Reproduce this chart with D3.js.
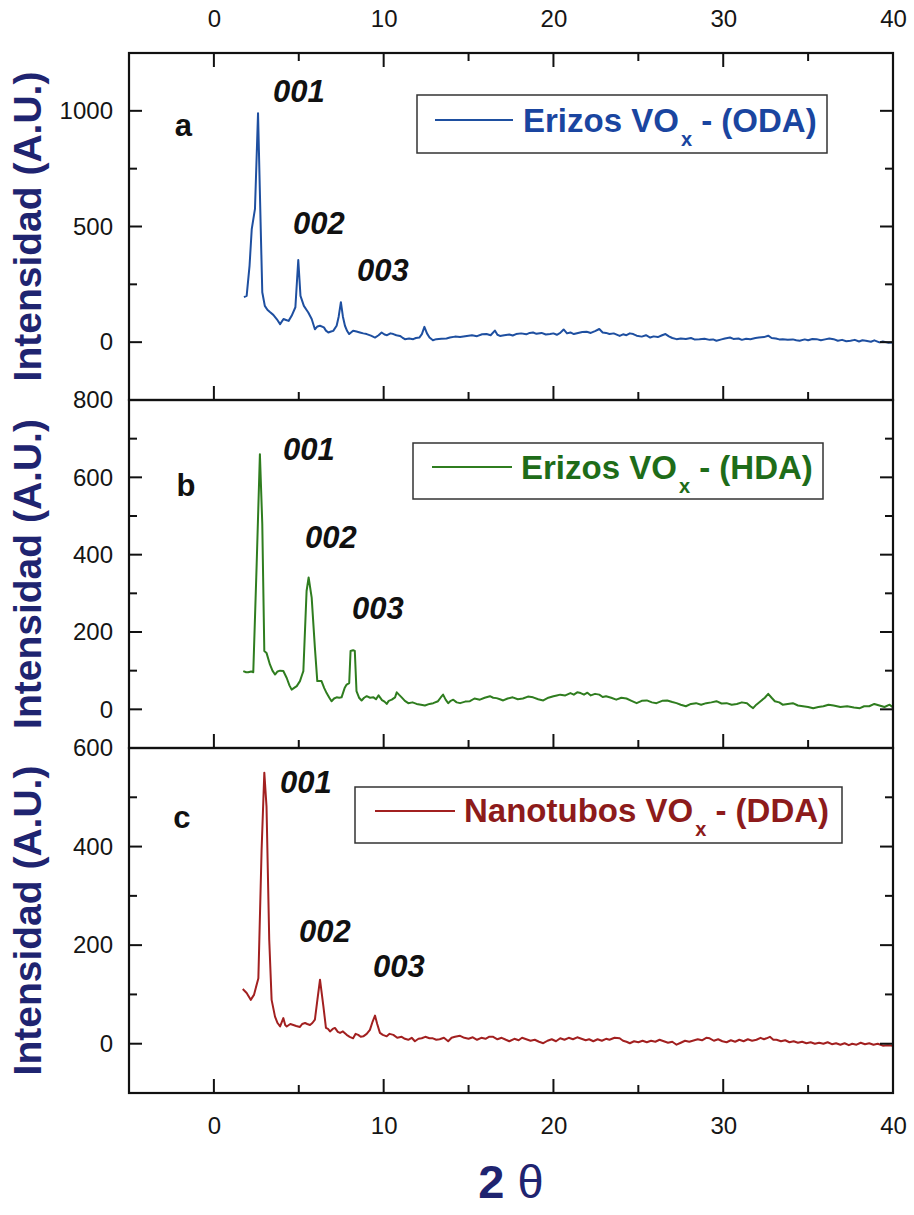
<!DOCTYPE html>
<html><head><meta charset="utf-8">
<script src="https://cdn.jsdelivr.net/npm/d3@7"></script>
<style>body{margin:0;background:#fff;} svg{display:block;}</style>
</head><body>
<svg id="chart" width="914" height="1215"></svg>
<script>
// ---------------- DATA ----------------
const xDomain = [-5, 40];
const xTicksMajor = [0, 10, 20, 30, 40];
const xTicksMinor = [5, 15, 25, 35];

const panelLetters = ["a", "b", "c"];
const legendMain = ["Erizos VO", "Erizos VO", "Nanotubos VO"];
const legendSub = ["x", "x", "x"];
const legendTail = [" - (ODA)", " - (HDA)", " - (DDA)"];
const peakNames = ["001", "002", "003"];

const yDomains = [[-250, 1250], [-100, 800], [-100, 600]];
const yTicksMajor = [[0, 500, 1000], [0, 200, 400, 600, 800], [0, 200, 400, 600]];
const yTicksMinor = [[250, 750], [100, 300, 500, 700], [100, 300, 500]];

const dataODA = [[1.77,195],[1.93,200],[2.1,330],[2.23,489],[2.42,576],[2.6,990],[2.75,520],[2.85,216],[3.0,157],[3.15,140],[3.3,130],[3.5,118],[3.7,100],[3.9,78],[4.1,100],[4.25,96],[4.4,92],[4.58,114],[4.8,151],[4.97,355],[5.1,200],[5.3,157],[5.45,140],[5.56,128],[5.76,100],[5.95,56],[6.1,68],[6.25,71],[6.48,64],[6.6,50],[6.74,42],[6.9,46],[7.03,49],[7.23,71],[7.35,110],[7.48,173],[7.6,110],[7.72,71],[7.85,48],[7.97,35],[8.2,49],[8.4,46],[8.6,42],[8.8,38],[9.0,35],[9.25,28],[9.49,20],[9.7,30],[9.88,42],[10.05,33],[10.2,30],[10.4,38],[10.57,35],[10.75,30],[10.96,27],[11.1,20],[11.25,13],[11.5,16],[11.74,13],[11.9,18],[12.1,20],[12.25,35],[12.4,66],[12.55,38],[12.7,20],[12.9,8],[13.1,13],[13.4,15],[13.7,16],[13.9,20],[14.2,24],[14.5,22],[14.9,27],[15.2,30],[15.5,26],[15.8,34],[16.06,35],[16.3,30],[16.55,50],[16.7,32],[16.85,27],[17.1,30],[17.4,33],[17.6,29],[17.8,35],[18.1,38],[18.4,34],[18.6,40],[18.8,42],[19.0,36],[19.3,40],[19.55,33],[19.8,35],[20.0,38],[20.2,32],[20.4,40],[20.6,55],[20.8,38],[21.0,42],[21.2,35],[21.45,40],[21.7,44],[21.96,45],[22.2,40],[22.45,48],[22.7,57],[22.9,42],[23.1,40],[23.3,35],[23.55,38],[23.9,27],[24.1,34],[24.3,30],[24.5,38],[24.7,35],[24.9,28],[25.2,24],[25.45,30],[25.7,20],[25.9,25],[26.15,22],[26.4,30],[26.6,35],[26.8,25],[27.0,18],[27.25,13],[27.5,16],[27.8,14],[28.1,18],[28.3,12],[28.6,13],[28.9,15],[29.2,10],[29.4,12],[29.6,6],[29.9,12],[30.1,16],[30.4,20],[30.6,14],[30.9,16],[31.1,10],[31.35,15],[31.6,13],[31.9,18],[32.1,20],[32.4,22],[32.65,28],[32.85,18],[33.1,16],[33.3,12],[33.5,13],[33.8,10],[34.1,12],[34.3,8],[34.5,6],[34.8,12],[35.0,8],[35.25,14],[35.5,13],[35.75,8],[36.0,12],[36.25,16],[36.5,13],[36.75,6],[37.0,10],[37.25,4],[37.5,6],[37.75,10],[38.0,3],[38.2,8],[38.4,6],[38.7,2],[38.9,8],[39.2,-1],[39.4,3],[39.7,-2],[40.0,-1]];

const dataHDA = [[1.73,99],[1.9,96],[2.02,96],[2.2,98],[2.32,96],[2.52,376],[2.71,660],[2.85,480],[2.97,151],[3.1,146],[3.3,116],[3.45,100],[3.6,90],[3.75,98],[3.9,100],[4.09,99],[4.29,81],[4.45,62],[4.58,51],[4.75,56],[4.88,60],[5.07,73],[5.2,90],[5.27,99],[5.46,306],[5.58,341],[5.76,289],[5.95,159],[6.09,73],[6.2,73],[6.34,73],[6.5,55],[6.64,42],[6.8,30],[6.93,21],[7.08,28],[7.23,31],[7.38,30],[7.52,31],[7.7,55],[7.82,64],[7.97,68],[8.05,151],[8.2,153],[8.3,151],[8.4,47],[8.55,30],[8.7,23],[8.85,30],[9.0,34],[9.2,30],[9.4,31],[9.55,26],[9.7,36],[9.9,24],[10.05,20],[10.18,14],[10.3,22],[10.48,25],[10.67,31],[10.77,44],[10.9,38],[11.06,31],[11.25,22],[11.45,16],[11.7,18],[11.94,14],[12.2,12],[12.43,10],[12.7,14],[12.92,16],[13.2,21],[13.35,30],[13.5,38],[13.65,25],[13.8,16],[13.95,22],[14.1,25],[14.3,18],[14.5,16],[14.8,20],[15.08,21],[15.35,28],[15.67,25],[15.95,30],[16.26,34],[16.45,30],[16.65,29],[16.85,26],[17.04,23],[17.3,28],[17.6,31],[17.9,26],[18.2,28],[18.5,33],[18.8,31],[19.1,26],[19.4,23],[19.7,30],[20.0,34],[20.2,36],[20.4,38],[20.7,36],[21.0,42],[21.2,38],[21.4,44],[21.6,42],[21.8,38],[22.0,43],[22.2,36],[22.45,40],[22.7,38],[22.9,32],[23.1,34],[23.4,30],[23.7,25],[24.0,30],[24.3,28],[24.6,22],[24.9,16],[25.2,22],[25.5,23],[25.8,18],[26.07,16],[26.4,22],[26.7,23],[27.0,19],[27.25,16],[27.5,12],[27.8,8],[28.1,14],[28.4,16],[28.7,12],[29.0,16],[29.3,18],[29.6,21],[29.9,15],[30.2,16],[30.5,12],[30.8,14],[31.1,18],[31.4,16],[31.6,8],[31.76,3],[31.95,12],[32.2,21],[32.45,30],[32.65,40],[32.85,30],[33.04,21],[33.3,18],[33.5,12],[33.8,14],[34.1,16],[34.4,10],[34.7,8],[35.0,6],[35.3,3],[35.6,6],[35.9,8],[36.2,12],[36.5,10],[36.9,6],[37.3,8],[37.7,5],[38.05,3],[38.3,8],[38.6,8],[38.9,14],[39.2,10],[39.5,6],[39.8,12],[40.0,5]];

const dataDDA = [[1.7,111],[1.93,103],[2.17,89],[2.36,99],[2.62,133],[2.81,393],[2.97,550],[3.1,481],[3.26,211],[3.4,89],[3.6,55],[3.75,42],[3.9,35],[4.09,52],[4.2,38],[4.29,35],[4.5,40],[4.68,38],[4.85,36],[5.07,34],[5.2,40],[5.37,42],[5.5,40],[5.66,38],[5.8,42],[5.95,49],[6.1,90],[6.25,130],[6.45,76],[6.6,32],[6.72,30],[6.84,25],[7.0,30],[7.13,32],[7.3,24],[7.43,22],[7.6,25],[7.82,18],[8.0,14],[8.2,11],[8.35,20],[8.5,18],[8.65,14],[8.8,15],[9.0,20],[9.19,28],[9.35,45],[9.49,57],[9.62,40],[9.78,22],[9.95,18],[10.18,15],[10.35,20],[10.57,18],[10.8,12],[11.06,14],[11.25,10],[11.45,8],[11.65,12],[11.84,5],[12.05,10],[12.24,11],[12.45,14],[12.7,11],[12.9,11],[13.1,8],[13.3,9],[13.55,12],[13.8,5],[14.0,12],[14.2,14],[14.5,16],[14.75,12],[15.0,10],[15.25,13],[15.5,8],[15.75,12],[16.0,10],[16.2,14],[16.45,14],[16.7,9],[16.95,12],[17.2,8],[17.4,5],[17.7,10],[17.95,7],[18.15,12],[18.4,9],[18.65,6],[18.9,8],[19.15,4],[19.4,1],[19.65,6],[19.9,9],[20.15,5],[20.4,11],[20.65,8],[20.9,12],[21.15,9],[21.4,13],[21.65,10],[21.9,7],[22.1,9],[22.35,5],[22.6,9],[22.85,6],[23.1,10],[23.3,8],[23.6,12],[23.9,11],[24.1,6],[24.3,4],[24.5,1],[24.75,5],[25.0,3],[25.25,6],[25.5,3],[25.75,6],[26.0,4],[26.25,8],[26.5,5],[26.75,2],[27.0,4],[27.25,-2],[27.5,2],[27.75,6],[28.0,4],[28.2,6],[28.5,9],[28.75,7],[29.0,12],[29.2,11],[29.45,6],[29.7,9],[29.95,5],[30.2,3],[30.45,7],[30.7,4],[30.95,8],[31.2,5],[31.45,9],[31.7,6],[31.96,8],[32.2,12],[32.4,9],[32.55,11],[32.75,14],[32.95,8],[33.14,8],[33.4,5],[33.65,7],[33.9,3],[34.15,5],[34.4,2],[34.65,4],[34.9,1],[35.15,3],[35.4,0],[35.65,2],[35.9,0],[36.15,3],[36.4,-1],[36.65,1],[36.9,-2],[37.15,1],[37.4,-3],[37.6,0],[37.85,-2],[38.1,2],[38.35,-1],[38.6,1],[38.85,-2],[39.1,0],[39.4,-4],[39.7,-3],[40.0,-4]];

const allData = [dataODA, dataHDA, dataDDA];

// annotation anchors in data coordinates
const peakAnchors = [
  [[3.48, 1039], [4.66, 467], [8.43, 264]],
  [[4.07, 644], [5.37, 418], [8.13, 234]],
  [[3.89, 508], [5.01, 207], [9.37, 136]]
];
const letterAnchors = [[-2.3, 892], [-2.2, 553], [-2.4, 438]];

// ---------------- LAYOUT / STYLE ----------------
const plotLeft = 129, plotRight = 893;
const panelTops = [53, 400, 748];
const panelBottoms = [400, 748, 1093];
const lineColors = ["#1e4fa0", "#2f7d1f", "#a22020"];
const textColors = ["#1a45a0", "#1e6c19", "#8d1b1b"];
const legendBoxes = [
  {x0: 417, x1: 827, y0: 95, y1: 153, l0: 435, l1: 513, ly: 120, tx: 523, ty: 132},
  {x0: 413, x1: 823, y0: 443, y1: 499, l0: 432, l1: 512, ly: 467, tx: 521, ty: 479},
  {x0: 355, x1: 842, y0: 787, y1: 843, l0: 375, l1: 455, ly: 811, tx: 464, ty: 822}
];
const navy = "#1f2470";
const tickFont = "'Liberation Sans', Arial, Helvetica, sans-serif";
const MAJ = 13, MIN = 8;

const svg = d3.select("#chart");
const x = d3.scaleLinear().domain(xDomain).range([plotLeft, plotRight]);

// tick labels via d3 axis (no tick lines, no domain)
function labelAxis(parent, axisGen, translate) {
  const a = parent.append("g").attr("transform", translate).call(axisGen);
  a.select(".domain").remove();
  a.selectAll(".tick line").remove();
  a.selectAll(".tick text").attr("fill", "#151515")
    .style("font-family", tickFont).style("font-size", "24px");
  return a;
}
// inward tick marks drawn from the scales
function vTicks(parent, yScale, values, x0, len) {
  parent.append("g").selectAll("line").data(values).join("line")
    .attr("x1", x0).attr("x2", x0 + len)
    .attr("y1", d => yScale(d)).attr("y2", d => yScale(d))
    .attr("stroke", "#111").attr("stroke-width", 2);
}
function hTicks(parent, values, y0, len) {
  parent.append("g").selectAll("line").data(values).join("line")
    .attr("x1", d => x(d)).attr("x2", d => x(d))
    .attr("y1", y0).attr("y2", y0 + len)
    .attr("stroke", "#111").attr("stroke-width", 2);
}

allData.forEach((data, i) => {
  const pTop = panelTops[i], pBot = panelBottoms[i];
  const y = d3.scaleLinear().domain(yDomains[i]).range([pBot, pTop]);
  const g = svg.append("g");

  // curve
  g.append("path").datum(data)
    .attr("fill", "none").attr("stroke", lineColors[i]).attr("stroke-width", 2)
    .attr("stroke-linejoin", "round")
    .attr("d", d3.line().x(d => x(d[0])).y(d => y(d[1])));

  // ticks
  vTicks(g, y, yTicksMajor[i], plotLeft, MAJ);
  vTicks(g, y, yTicksMinor[i], plotLeft, MIN);
  vTicks(g, y, yTicksMajor[i], plotRight, -MAJ);
  vTicks(g, y, yTicksMinor[i], plotRight, -MIN);
  hTicks(g, xTicksMajor, pBot, -(MAJ + 1));
  hTicks(g, xTicksMinor, pBot, -MIN);
  if (i === 0) {
    hTicks(g, xTicksMajor, pTop, MAJ + 1);
    hTicks(g, xTicksMinor, pTop, MIN);
  }

  // labels
  labelAxis(g, d3.axisLeft(y).tickValues(yTicksMajor[i]).tickSizeOuter(0).tickSizeInner(0)
      .tickPadding(16).tickFormat(d3.format("d")), `translate(${plotLeft},0)`);
  if (i === 2) {
    labelAxis(g, d3.axisBottom(x).tickValues(xTicksMajor).tickSizeOuter(0).tickSizeInner(0)
        .tickPadding(24).tickFormat(d3.format("d")), `translate(0,${pBot})`);
  }
  if (i === 0) {
    labelAxis(g, d3.axisTop(x).tickValues(xTicksMajor).tickSizeOuter(0).tickSizeInner(0)
        .tickPadding(26).tickFormat(d3.format("d")), `translate(0,${pTop})`);
  }

  // frame
  g.append("rect").attr("x", plotLeft).attr("y", pTop)
    .attr("width", plotRight - plotLeft).attr("height", pBot - pTop)
    .attr("fill", "none").attr("stroke", "#111").attr("stroke-width", 2.2);

  // y title
  g.append("text")
    .attr("transform", `translate(41,${(pTop + pBot) / 2}) rotate(-90)`)
    .attr("text-anchor", "middle")
    .style("font-family", tickFont).style("font-weight", "bold").style("font-size", "39px")
    .attr("fill", navy).text("Intensidad (A.U.)");

  // panel letter
  g.append("text")
    .attr("x", x(letterAnchors[i][0])).attr("y", y(letterAnchors[i][1]))
    .style("font-family", tickFont).style("font-weight", "bold").style("font-size", "31px")
    .attr("fill", "#111").text(panelLetters[i]);

  // peak labels
  peakAnchors[i].forEach((a, k) => {
    g.append("text")
      .attr("x", x(a[0])).attr("y", y(a[1]))
      .style("font-family", tickFont).style("font-weight", "bold")
      .style("font-style", "italic").style("font-size", "31px")
      .attr("fill", "#111").text(peakNames[k]);
  });

  // legend
  const L = legendBoxes[i];
  g.append("rect").attr("x", L.x0).attr("y", L.y0)
    .attr("width", L.x1 - L.x0).attr("height", L.y1 - L.y0)
    .attr("fill", "#fff").attr("stroke", "#333").attr("stroke-width", 1.5);
  g.append("line").attr("x1", L.l0).attr("x2", L.l1).attr("y1", L.ly).attr("y2", L.ly)
    .attr("stroke", lineColors[i]).attr("stroke-width", 2.2);
  const t = g.append("text").attr("x", L.tx).attr("y", L.ty)
    .style("font-family", tickFont).style("font-weight", "bold").style("font-size", "33px")
    .attr("fill", textColors[i]);
  t.append("tspan").text(legendMain[i]);
  t.append("tspan").attr("dy", 14).attr("dx", 2).style("font-size", "20px").text(legendSub[i]);
  t.append("tspan").attr("dy", -14).text(legendTail[i]);
});

// x title
const xt = svg.append("text").attr("x", (plotLeft + plotRight) / 2).attr("y", 1198)
  .attr("text-anchor", "middle").attr("fill", navy)
  .style("font-family", tickFont).style("font-size", "47px");
xt.append("tspan").style("font-weight", "bold").text("2");
xt.append("tspan").style("font-weight", "normal").text(" θ");
</script>
</body></html>
